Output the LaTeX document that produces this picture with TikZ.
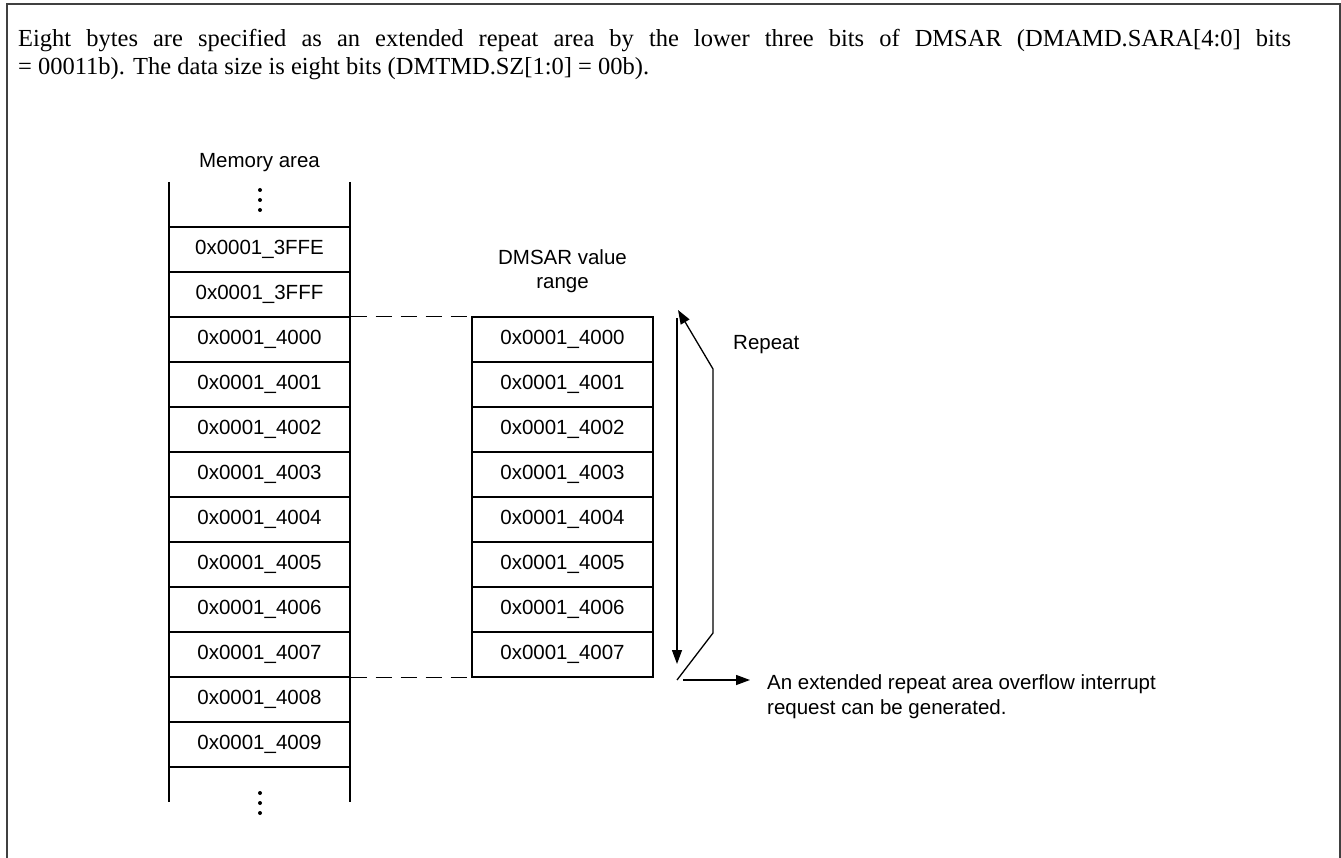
\documentclass[tikz,border=0pt]{standalone}
\usepackage{fontspec}
\setmainfont{Liberation Serif}
\setsansfont{Liberation Sans}
\usetikzlibrary{arrows.meta}
\begin{document}
\begin{tikzpicture}[x=1pt,y=-1pt,
  cell/.style={draw, line width=1.3pt, minimum width=181pt, minimum height=45pt, inner sep=0pt,
               font=\sffamily\fontsize{20.5}{24}\selectfont},
  blank/.style={minimum width=181pt, minimum height=45pt, inner sep=0pt},
  lbl/.style={inner sep=0pt, font=\sffamily\fontsize{20.5}{24}\selectfont},
  serif/.style={inner sep=0pt, font=\fontsize{24.5}{27}\selectfont},
  dashline/.style={line width=1.3pt, dash pattern=on 16pt off 9pt},
  conn/.style={line width=1.3pt},
  tip/.style={conn, -{Triangle[length=14pt,width=10pt]}},
  dot/.style={fill=black, draw=none, circle, inner sep=0pt, minimum size=4pt},
  wall/.style={line width=2.2pt}
]
\useasboundingbox (0,0) rectangle (1341,858);
% outer frame (open at the bottom)
\draw[line width=2pt, color=black!75] (6.5,858) -- (6.5,4.5) -- (1339.5,4.5) -- (1339.5,858);

% intro text (justified first line)
\node[serif, anchor=base west] (intro1) at (18,47) {\hbox to 1273pt{Eight bytes are specified as an extended repeat area by the lower three bits of DMSAR (DMAMD.SARA[4:0] bits}};
\node[serif, anchor=base west] (intro2) at (18,74.5) {= 00011b). The data size is eight bits (DMTMD.SZ[1:0] = 00b).};

% memory area column
\node[lbl] (memlabel) at (259.5,163) {Memory area};
\node[blank] (mtop) at (259.5,204.5) {};
\node[cell] (m0)  at (259.5,249.5) {0x0001\_3FFE};
\node[cell] (m1)  at (259.5,294.5) {0x0001\_3FFF};
\node[cell] (m2)  at (259.5,339.5) {0x0001\_4000};
\node[cell] (m3)  at (259.5,384.5) {0x0001\_4001};
\node[cell] (m4)  at (259.5,429.5) {0x0001\_4002};
\node[cell] (m5)  at (259.5,474.5) {0x0001\_4003};
\node[cell] (m6)  at (259.5,519.5) {0x0001\_4004};
\node[cell] (m7)  at (259.5,564.5) {0x0001\_4005};
\node[cell] (m8)  at (259.5,609.5) {0x0001\_4006};
\node[cell] (m9)  at (259.5,654.5) {0x0001\_4007};
\node[cell] (m10) at (259.5,699.5) {0x0001\_4008};
\node[cell] (m11) at (259.5,744.5) {0x0001\_4009};
\node[blank, minimum height=35pt] (mbot) at (259.5,784.5) {};
\draw[wall] (169,182) -- (169,802);
\draw[wall] (350,182) -- (350,802);
% ellipsis dots
\node[dot] (td1) at (260,190) {};
\node[dot] (td2) at (260,200) {};
\node[dot] (td3) at (260,210) {};
\node[dot] (bd1) at (260,793) {};
\node[dot] (bd2) at (260,803) {};
\node[dot] (bd3) at (260,813) {};

% DMSAR value range column
\node[lbl, align=center] (dlabel) at (562.5,271) {DMSAR value\\range};
\node[cell] (d0) at (562.5,339.5) {0x0001\_4000};
\node[cell] (d1) at (562.5,384.5) {0x0001\_4001};
\node[cell] (d2) at (562.5,429.5) {0x0001\_4002};
\node[cell] (d3) at (562.5,474.5) {0x0001\_4003};
\node[cell] (d4) at (562.5,519.5) {0x0001\_4004};
\node[cell] (d5) at (562.5,564.5) {0x0001\_4005};
\node[cell] (d6) at (562.5,609.5) {0x0001\_4006};
\node[cell] (d7) at (562.5,654.5) {0x0001\_4007};

% dashed guides
\draw[dashline] (m2.north east) -- (d0.north west);
\draw[dashline] (m9.south east) -- (d7.south west);

% repeat arrows
\coordinate (dntop) at (677,318);
\coordinate (dnbot) at (677,664);
\coordinate (upstart) at (677,680);
\coordinate (upk1) at (713,633);
\coordinate (upk2) at (713,369);
\coordinate (uptip) at (678,310);
\coordinate (ovstart) at (683,680);
\coordinate (ovtip) at (750,680);
\draw[tip] (dntop) -- (dnbot);
\draw[tip] (upstart) -- (upk1) -- (upk2) -- (uptip);
\draw[tip] (ovstart) -- (ovtip);

\node[lbl, anchor=west] (repeat) at (733,345) {Repeat};
\node[lbl, anchor=west, align=left, font=\sffamily\fontsize{20.5}{25}\selectfont] (overflow) at (767,696.5)
  {An extended repeat area overflow interrupt\\request can be generated.};
\end{tikzpicture}
\end{document}
